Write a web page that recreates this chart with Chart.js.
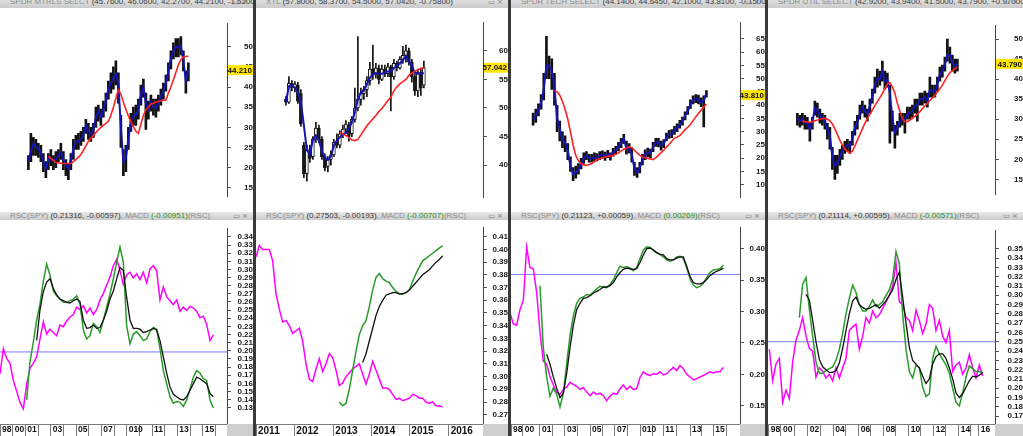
<!DOCTYPE html>
<html>
<head>
<meta charset="utf-8">
<script src="https://cdn.jsdelivr.net/npm/chart.js@4.4.1/dist/chart.umd.min.js"></script>
<style>
  body { margin: 0; width: 1023px; height: 436px; overflow: hidden; background: #3a3a3a; position: relative; font-family: "Liberation Sans", Arial, sans-serif; }
  .col { position: absolute; top: 0; height: 436px; background: #fff; overflow: hidden; }
  .hdr { position: absolute; left: 0; right: 0; background: linear-gradient(#e8e8e8, #cbcbcb); font-size: 8px; color: #8a8a8a; white-space: nowrap; overflow: hidden; padding-left: 10px; box-sizing: border-box; }
  .hdr .v { color: #3a3a3a; }
  .hdr .g { color: #1f8f1f; }
  .hdr .ic { position: absolute; right: 5px; top: 0; color: #777; font-family: "DejaVu Sans", sans-serif; font-size: 7px; }
  .top-hdr { top: -4px; height: 12px; line-height: 12px; }
  .bot-hdr { top: 212px; height: 8px; line-height: 8px; }
  canvas { position: absolute; left: 0; }
  .corner { position: absolute; bottom: 0; right: 0; height: 12px; background: #cfcfcf; }
</style>
</head>
<body>
<div class="col" style="left:0;width:253px">
  <div class="hdr top-hdr" id="hdr0"></div>
  <canvas id="top0" width="253" height="204" style="top:8px"></canvas>
  <div class="hdr bot-hdr" id="bhdr0"></div>
  <canvas id="bot0" width="253" height="216" style="top:220px"></canvas>
  <div class="corner" style="width:26px"></div>
</div>
<div class="col" style="left:256px;width:252px">
  <div class="hdr top-hdr" id="hdr1"></div>
  <canvas id="top1" width="252" height="204" style="top:8px"></canvas>
  <div class="hdr bot-hdr" id="bhdr1"></div>
  <canvas id="bot1" width="252" height="216" style="top:220px"></canvas>
  <div class="corner" style="width:25px"></div>
</div>
<div class="col" style="left:511px;width:254px">
  <div class="hdr top-hdr" id="hdr2"></div>
  <canvas id="top2" width="254" height="204" style="top:8px"></canvas>
  <div class="hdr bot-hdr" id="bhdr2"></div>
  <canvas id="bot2" width="254" height="216" style="top:220px"></canvas>
  <div class="corner" style="width:25px"></div>
</div>
<div class="col" style="left:768px;width:255px">
  <div class="hdr top-hdr" id="hdr3"></div>
  <canvas id="top3" width="255" height="204" style="top:8px"></canvas>
  <div class="hdr bot-hdr" id="bhdr3"></div>
  <canvas id="bot3" width="255" height="216" style="top:220px"></canvas>
  <div class="corner" style="width:28px"></div>
</div>
<script>
// ---------- SPDR MTRLS SELCT ----------
const mtrlsName = "SPDR MTRLS SELCT";
const mtrlsQuote = [45.76, 46.06, 42.27, 44.21, -1.52];
const mtrlsStart = 0;
const mtrlsHigh = [23,28.5,27.5,27,26,25.5,23.5,21.5,23.5,24.5, 23,24,24.5,26,24,22,21,23.5,27,28,
  28.5,29,30,32,31,30,31,35,35.5,34.5, 36.5,38.5,41.5,43.5,45,46.5,43.5,33,24.5,25.5,
  30,33.5,35,35.5,37,40.5,42,38.5,36.5,38, 37,37,38,39.5,41,43,46,49,51,52, 52,52.5,49,44,46];
const mtrlsLow = [19.5,21.5,23,23,22.5,21.5,19,17.5,19.5,20.5, 19.5,20,21.5,22,19.5,18,17,19.5,22,24.5,
  24.5,25.5,26.5,28.5,27,26.5,27.5,30,31.5,30.5, 32.5,34,37,38.5,39.5,40.5,36,25,18,19,
  24.5,29,30.5,30.5,32,35.5,37.5,29.5,32,34, 33,32.5,34,35.5,37,39,41.5,44.5,47,47.5, 47.5,48,44,38.5,41.5];
const mtrlsClose = [21.5,24,26,25.3,24.5,23.8,21.5,19.8,22,22.5, 21.7,22,23,23.8,22,20.5,19.8,22,24.5,26.5,
  26.5,27,28,30.5,29,28.2,29.4,32.5,34,32.5, 34.5,36.5,39.5,41,42.2,43.3,40.8,30,21.5,22.5,
  27,31.5,33,33,34.5,38,40,36,34.5,36.3, 35,34.8,36.2,37.5,39,41,44,47,49,50, 49.8,50.2,46.5,41.5,44.2];
const mtrlsAvgStart = 8;
const mtrlsAvg = [22.8,22.3,21.8,21.3,21.2,21.1,21,21,21,21, 21.5,22,22.6,23.2,24.3,25.4,26.5,27.3,28,28.7,
  29.4,30,30.5,31,31.5,33,35,37.2,39.3,38.2, 36.2,34.5,32.8,31.4,30.2,29,28.5,30.8,33,34.3,
  35,35.8,36,36.3,36.4,36.6,36.7,36.8,38.5,40, 41.8,43.6,45.5,46.8,47.5,47.6,47.7];
const mtrlsRscQuote = [0.21316, -0.00597, -0.00951];
const mtrlsRscStart = 0;
const mtrlsRsc = [0.171,0.202,0.19,0.184,0.163,0.15,0.136,0.128,0.158,0.178, 0.184,0.192,0.214,0.235,0.22,0.226,0.222,0.218,0.231,0.229,
  0.236,0.241,0.244,0.253,0.25,0.255,0.246,0.252,0.244,0.25, 0.262,0.27,0.28,0.29,0.304,0.312,0.298,0.281,0.293,0.296,
  0.289,0.294,0.287,0.296,0.283,0.3,0.304,0.298,0.262,0.278, 0.266,0.261,0.256,0.262,0.248,0.253,0.249,0.254,0.252,0.248,
  0.24,0.242,0.232,0.212,0.219];
const mtrlsMacdStart = 8;
const mtrlsMacd = [0.139,0.186,0.21,0.237,0.257,0.285,0.306,0.292,0.273,0.267, 0.263,0.259,0.259,0.261,0.263,0.267,0.257,0.225,0.214,0.218,
  0.233,0.229,0.222,0.237,0.253,0.269,0.288,0.308,0.327,0.308, 0.23,0.208,0.22,0.223,0.218,0.212,0.214,0.223,0.228,0.226,
  0.202,0.175,0.159,0.143,0.135,0.137,0.136,0.131,0.139,0.152, 0.167,0.175,0.172,0.165,0.163,0.139,0.129];
const mtrlsSignalStart = 11;
const mtrlsSignal = [0.212,0.25,0.272,0.284,0.288,0.276,0.268,0.263,0.261,0.259, 0.258,0.261,0.263,0.26,0.237,0.227,0.228,0.231,0.227,0.228,
  0.237,0.248,0.263,0.273,0.288,0.302,0.298,0.265,0.237,0.227, 0.227,0.226,0.222,0.223,0.225,0.227,0.225,0.212,0.192,0.172,
  0.155,0.146,0.143,0.14,0.139,0.143,0.151,0.159,0.167,0.165, 0.162,0.159,0.147,0.143];
const mtrlsLevel = 0.198;
const mtrlsYearTicks = [0,3.8,7.6,11.4,15.2,19,22.8,26.6,30.4,34.2,38,41.8,45.6,49.4,53.2,57,60.8,64.6];
const mtrlsYearLabels = ['98','00','01','','03','','05','','07','','010','','11','','13','','15',''];

// ---------- XTL ----------
const xtlName = "XTL";
const xtlQuote = [57.8, 58.37, 54.5, 57.042, -0.758];
const xtlOpen = [51.5,51,54.3,53.6,54,52.5,43.5,38.5,42.5,41.5, 44.6,46.5,44.5,41.5,39.8,41,41.8,44,43.5,45.5,
  46.3,47,45.5,48,50,51.5,52.5,53.2,54.8,56.8, 55.8,57,55,56.8,56,57.2,55.5,57.8,57,58.5, 59.2,60,58,55.5,53,56.2,54];
const xtlHigh = [52,55.5,54.8,54.6,54.5,53.2,44,43.5,43.5,45, 47.5,47,45,42,41.5,42.5,44.5,45.5,46,47,
  47.8,47.5,48.5,53.5,62.5,53.5,53.8,55.5,58,61, 57.8,57.5,57.5,57.5,57.8,57.5,58.5,58.2,59,60.8, 61,60.5,58.5,56,56.8,57,58.2];
const xtlLow = [50.5,50.8,53,52.8,50.8,46.8,37.8,37.2,40.5,41, 44,44,41,39,38.8,40,41.5,43,43,44.8,
  45.5,44.2,45,47.5,49.5,50.5,51.5,52,54,55, 55.2,54.2,54.8,55.5,55.5,49.5,55,56.5,56.8,57.8, 58,57.5,54.5,52.2,52,52.2,53.5];
const xtlClose = [51,54.3,53.6,54.2,51.2,47.2,38.5,42.8,41.2,44.6, 46.5,44.5,41.5,39.5,41,41.8,44,43.5,45.5,46.3,
  47.2,45,48,50,51.5,52.5,53.2,54.8,56.8,55.8, 57,55,56.8,56,57.2,55.5,57.8,57,58.5,59.2, 60,58,55.5,53,56.2,53.5,57.04];
const xtlBlue = [51,53.8,54,53.5,52.8,51,47,42.6,42,44.3, 45.2,44.3,42.5,41.2,40.9,41.5,43.5,44.3,44.9,45.4,
  45.6,46.4,47.5,49.3,51.5,52.7,53,54.2,55.3,55.9, 56.1,56,56,56.2,56.4,56.4,57,57.4,57.8,58.4, 59.1,58.2,57.4,56.2,56,56,56.1];
const xtlAvgStart = 18;
const xtlAvg = [45.7,45.5,45.2,44.8,44.4,44.3,44.5,45.3,46.1,46.9, 47.5,48.1,48.7,49.4,49.9,50.6,51.3,51.9,53,53.7,
  54.2,54.6,55,55.7,56.1,56.4,56.7,56.9,57.1];
const xtlRscQuote = [0.27503, -0.00193, -0.00707];
const xtlRscStart = 0;
const xtlRsc = [0.394,0.403,0.40,0.40,0.40,0.391,0.365,0.353,0.343,0.344, 0.34,0.334,0.336,0.338,0.328,0.31,0.298,0.296,0.306,0.314,
  0.304,0.31,0.318,0.315,0.305,0.293,0.295,0.30,0.303,0.306, 0.308,0.31,0.302,0.294,0.302,0.312,0.305,0.298,0.291,0.291,
  0.29,0.286,0.282,0.283,0.281,0.282,0.283,0.286,0.285,0.283, 0.283,0.28,0.279,0.28,0.277,0.277,0.276];
const xtlMacdStart = 25;
const xtlMacd = [0.28,0.277,0.279,0.29,0.305,0.32,0.333,0.34,0.344,0.355, 0.368,0.378,0.381,0.377,0.375,0.374,0.37,0.367,0.365,0.365,
  0.366,0.368,0.375,0.381,0.386,0.391,0.393,0.395,0.397,0.399, 0.401,0.403];
const xtlSignalStart = 32;
const xtlSignal = [0.311,0.318,0.328,0.338,0.348,0.355,0.36,0.364,0.365,0.366, 0.366,0.365,0.365,0.366,0.368,0.371,0.374,0.377,0.38,0.382,
  0.384,0.387,0.39,0.392,0.395];
const xtlYearTicks = [0,11.5,23.2,34.5,46,57.8];
const xtlYearLabels = ['2011','2012','2013','2014','2015','2016'];

// ---------- SPDR TECH SELECT ----------
const techName = "SPDR TECH SELECT";
const techQuote = [44.14, 44.645, 42.1, 43.81, -0.15];
const techStart = 0;
const techHigh = [37,38.5,40.5,44,52,66,58.5,57.5,52,40, 34,30,28.5,25.5,20.5,16.5,17,18,20,22,
  22.5,21.5,21.5,22,21.8,22.5,22.8,22.3,23,22, 23.7,24.5,26,27.5,29,26.5,25.5,24,18.5,16.5,
  18.5,21.5,23.2,23.8,23.5,26,27.5,27.5,26.5,27, 29.5,30.5,30.8,32,33,34.3,35.5,37.5,39.5,42, 43.5,44,43.8,42.8,43.5,45.5];
const techLow = [32.5,33.5,36,38.5,42,50,50,46,40,30, 26.5,24,22.5,19.5,15,11.5,12.5,14,16,18,
  19.5,18.5,18.5,19,19,19.5,20,19.2,20.2,19.3, 20.8,21.5,22.8,24,25.5,21.5,22,18.5,13.5,12.8,
  14.5,17.5,19.5,20.5,20,22.5,24.5,24.3,23,24, 26.5,27.5,27.8,29,30,31.3,32.5,34.5,36.5,38.8, 40.5,41,40.5,39.5,31.8,43];
const techClose = [34.5,36,38,41,46,55,55,53,47,35, 31,27,26,23,17,14,14.5,15.8,17.5,20,
  21,20,20,20.3,20.3,21,21.4,21,21.6,20.7, 22.3,23,24.3,25.8,27.6,23.5,24,21.5,16,14.6,
  16.5,19.5,21.5,22.2,22,24.2,26,26,25,25.5, 28,29,29.3,30.5,31.3,32.7,34,36,37.8,40.3, 42,42.5,42.2,41,41.8,44.5];
const techAvgStart = 8;
const techAvg = [45.5,45,43.8,41.5,38.5,34.8,30,25,21,19, 18,17.5,17.3,17.6,18,18.7,19.5,19.8,20.2,20.5,
  20.7,20.9,21.1,21.5,22,22.8,23.4,23.8,24.3,24, 23,22,21.2,20.5,20.2,19.9,19.7,19.5,20.2,21.1,
  22.1,23,24.2,25.3,26.4,27.6,28,28.5,29.6,30.8, 31.7,32.7,34.2,35.6,36.9,38.2,39.3,40.5];
const techRscQuote = [0.21123, 0.00059, 0.00269];
const techRscStart = 0;
const techRsc = [0.298,0.28,0.278,0.303,0.318,0.402,0.37,0.368,0.33,0.267, 0.221,0.216,0.196,0.183,0.172,0.168,0.176,0.18,0.187,0.184,
  0.181,0.176,0.179,0.172,0.166,0.172,0.168,0.17,0.166,0.158, 0.165,0.17,0.168,0.177,0.183,0.176,0.181,0.176,0.177,0.195,
  0.204,0.2,0.198,0.201,0.2,0.204,0.199,0.201,0.206,0.211, 0.206,0.214,0.209,0.2,0.196,0.191,0.193,0.196,0.198,0.201,
  0.204,0.202,0.204,0.204,0.211];
const techMacdStart = 9;
const techMacd = [0.341,0.242,0.196,0.165,0.178,0.168,0.148,0.17,0.216,0.262, 0.293,0.313,0.321,0.323,0.327,0.326,0.331,0.336,0.34,0.339,
  0.338,0.343,0.35,0.362,0.372,0.37,0.371,0.369,0.365,0.37, 0.384,0.398,0.403,0.402,0.397,0.393,0.391,0.387,0.382,0.38,
  0.382,0.387,0.388,0.384,0.37,0.352,0.342,0.338,0.34,0.345, 0.354,0.362,0.366,0.367,0.368,0.374];
const techSignalStart = 11;
const techSignal = [0.232,0.216,0.196,0.178,0.163,0.17,0.201,0.242,0.278,0.303, 0.313,0.321,0.322,0.325,0.329,0.332,0.335,0.339,0.339,0.341,
  0.346,0.355,0.362,0.367,0.369,0.368,0.367,0.368,0.378,0.39, 0.4,0.401,0.398,0.394,0.391,0.39,0.384,0.382,0.382,0.385,
  0.387,0.387,0.372,0.356,0.346,0.344,0.344,0.346,0.351,0.357, 0.361,0.364,0.366,0.369];
const techLevel = 0.359;
const techYearTicks = [0.3,3.8,9,12.7,16.5,20.2,24,27.7,31.5,35.2,39,42.7,46,50,54,57.5,61,64.8];
const techYearLabels = ['98','00','01','','03','','05','','07','','010','','11','','13','','15',''];

// ---------- SPDR UTIL SELECT ----------
const utilName = "SPDR UTIL SELECT";
const utilQuote = [42.92, 43.94, 41.5, 43.79, 0.97];
const utilStart = 1;
const utilHigh = [31.5,31,31.5,31,30.5,29,30.5,34.5,34,32.5, 31.5,31,29,28,23,21,21,22.5,23.5,24.5,
  25,24.5,27,29.5,31,33.5,34.5,33.5,32.5,35, 37.5,40.5,42.5,42,44.5,42,41.5,38.5,32,28.5,
  29.5,31.5,31.5,31.5,33,33,33.5,35,35,36.5, 36.5,37,36.5,40.5,38.5,38.5,40.5,43,43.5,45.5, 50,48,46,45,45];
const utilLow = [28.5,28,28.5,27.5,27.5,24.5,27.5,31,30.5,29, 28.5,27.5,25,22.5,17.5,15,16.5,18.5,20,21.5,
  22,21.5,23.5,26,27.5,30,31.5,30.5,29.5,31.5, 34,36.5,38,38.5,39.5,37.5,38,24,27,22.8,
  26,28,28.5,26.5,30,30,30.5,31.5,29.5,33.5, 33.5,34,33,35.5,35.5,35.5,37,39.5,40.5,42, 44.5,44,42,41.5,42];
const utilClose = [30.2,29.5,30,29.2,29,27.6,29.2,32.8,32.3,31, 30.2,29.5,27.5,26,20.5,18.5,19,20.6,22,23,
  23.5,23.2,25.3,27.8,29.2,31.5,33,32,31.3,33.3, 35.8,38.3,40.1,40,41.8,39.5,39.8,36.5,30.2,26.8,
  27.8,29.6,30,30,31.3,31.5,32,33.3,33.5,35, 35,35.5,34.6,37.3,37,37,38.9,41.2,42,43.6, 46.1,46,44,43.2,43.8];
const utilAvgStart = 3;
const utilAvg = [29.6,29.4,29.3,29.2,29.4,29.6,29.8,30,30.1,30.2, 30,29.6,28.8,27.6,26.2,24.7,23.6,22.6,22,21.6,
  22,23.3,24.8,26.2,27.6,29,30.2,31.2,32.3,33.4, 34.4,35.4,36.4,37.7,38.9,39.1,38,36.5,34,32,
  30.2,29.4,29.4,29.8,30.2,30.7,31.3,31.9,32.6,33.3, 34,34.6,35.3,36,36.8,37.6,38.5,39.6,40.7,41.6, 42.1,42.6,43];
const utilRscQuote = [0.21114, 0.00595, -0.00571];
const utilRscStart = 1;
const utilRsc = [0.242,0.208,0.226,0.232,0.185,0.198,0.189,0.228,0.252,0.262, 0.276,0.256,0.243,0.24,0.212,0.222,0.218,0.211,0.215,0.208,
  0.222,0.211,0.222,0.232,0.262,0.266,0.269,0.242,0.256,0.276, 0.27,0.283,0.276,0.279,0.286,0.293,0.3,0.31,0.335,0.293,
  0.29,0.276,0.273,0.262,0.284,0.273,0.259,0.269,0.29,0.286, 0.262,0.273,0.256,0.249,0.262,0.218,0.225,0.228,0.215,0.222,
  0.236,0.222,0.211,0.225,0.213];
const utilMacdStart = 10;
const utilMacd = [0.276,0.312,0.319,0.285,0.256,0.228,0.216,0.216,0.219,0.221, 0.223,0.23,0.242,0.259,0.28,0.297,0.311,0.303,0.29,0.283,
  0.283,0.288,0.295,0.288,0.29,0.293,0.3,0.306,0.317,0.347, 0.334,0.279,0.242,0.218,0.211,0.225,0.222,0.201,0.191,0.194,
  0.232,0.245,0.237,0.231,0.225,0.216,0.2,0.185,0.181,0.195, 0.212,0.224,0.221,0.218,0.218,0.217];
const utilSignalStart = 12;
const utilSignal = [0.301,0.295,0.273,0.25,0.231,0.223,0.22,0.217,0.217,0.219, 0.227,0.243,0.262,0.28,0.294,0.298,0.29,0.287,0.285,0.286,
  0.288,0.29,0.286,0.29,0.294,0.3,0.306,0.317,0.325,0.298, 0.27,0.244,0.23,0.226,0.222,0.213,0.205,0.21,0.226,0.234,
  0.237,0.237,0.232,0.222,0.21,0.195,0.19,0.194,0.201,0.208, 0.213,0.212,0.214,0.217];
const utilLevel = 0.25;
const utilYearTicks = [0.8,4.5,8.5,12.5,16.3,20.2,24,27.8,31.5,35.3,39,42.8,46.5,50.3,54,57.8,61.5,63.8];
const utilYearLabels = ['98','00','','02','','04','','06','','08','','10','','12','','14','','16'];

// ---------- helpers ----------
Chart.defaults.font.family = '"Liberation Sans", Arial, sans-serif';
Chart.defaults.animation = false;

const fmtSigned = (v) => (v >= 0 ? '+' : '') + v.toFixed(5);

function setHeaders(i, name, q, r) {
  document.getElementById('hdr' + i).innerHTML =
    name + ' <span class="v">(' + q.slice(0, 4).map((v) => v.toFixed(4)).join(', ') + ', ' + fmtSigned(q[4]) + ')</span>' +
    '<span class="ic">▭ ×</span>';
  document.getElementById('bhdr' + i).innerHTML =
    'RSC(SPY) <span class="v">(' + r[0].toFixed(5) + ', ' + fmtSigned(r[1]) + ')</span>, MACD ' +
    '<span class="g">(' + r[2].toFixed(5) + ')</span>(RSC)<span class="ic">▭ ×</span>';
}

function pts(values, start) {
  return values.map((v, i) => ({ x: start + i, y: v }));
}

const lastPriceTag = {
  id: 'lastPriceTag',
  afterDraw(chart, args, opts) {
    const a = chart.chartArea;
    const y = chart.scales.y.getPixelForValue(opts.value);
    const ctx = chart.ctx;
    ctx.save();
    ctx.fillStyle = '#ffe600';
    ctx.fillRect(a.right + 1, y - 5, chart.width - a.right - 1, 10);
    ctx.fillStyle = '#111';
    ctx.font = 'bold 8px "Liberation Sans", Arial';
    ctx.textAlign = 'right';
    ctx.textBaseline = 'middle';
    ctx.fillText(opts.value.toFixed(3), chart.width - 1, y + 0.5);
    ctx.restore();
  }
};

// right-hand price axis; labels only between lo and hi like the original
function yAxis(min, max, step, lo, hi, axisW, pad, fmt) {
  return {
    position: 'right', min: min, max: max,
    afterBuildTicks: (s) => { s.ticks = s.ticks.filter((t) => t.value >= lo - 1e-6 && t.value <= hi + 1e-6); },
    afterFit: (s) => { s.width = axisW; },
    ticks: {
      stepSize: step, includeBounds: false, autoSkip: false, color: '#1a1a1a', padding: pad,
      font: { size: 8, weight: 'bold' }, crossAlign: 'far',
      callback: fmt
    },
    grid: { drawOnChartArea: false, tickLength: 4, color: '#555' },
    border: { color: '#444' }
  };
}

function priceChart(id, p) {
  const datasets = [
    { type: 'line', data: pts(p.avg, p.avgStart), borderColor: '#ff2020', borderWidth: 1.6, pointRadius: 0, order: 1 },
    { type: 'line', data: pts(p.blue, p.start), borderColor: '#1515b5', borderWidth: 2, pointRadius: 0, order: 2 },
    { type: 'bar', data: p.low.map((l, i) => ({ x: p.start + i, y: [l, p.high[i]] })),
      backgroundColor: '#111', barThickness: p.open ? 1 : 2, grouped: false, order: 4 }
  ];
  if (p.open) {
    datasets.push({
      type: 'bar', data: p.open.map((o, i) => ({ x: p.start + i, y: [o, p.close[i]] })),
      backgroundColor: p.open.map((o, i) => (p.close[i] >= o ? '#ffffff' : '#1a1a1a')),
      borderColor: '#111', borderWidth: 1, borderSkipped: false,
      barThickness: 3, grouped: false, order: 3
    });
  }
  new Chart(document.getElementById(id), {
    type: 'line',
    data: { datasets: datasets },
    plugins: [lastPriceTag],
    options: {
      responsive: false, devicePixelRatio: 1,
      layout: { padding: 0, autoPadding: false },
      plugins: { legend: { display: false }, tooltip: { enabled: false }, lastPriceTag: { value: p.last } },
      scales: {
        x: { type: 'linear', display: false, min: p.xMin, max: p.xMax },
        y: yAxis(p.yMin, p.yMax, 5, p.lo, p.hi, p.axisW, p.pad, (v) => v)
      }
    }
  });
}

function rscChart(id, p) {
  const datasets = [
    { data: pts(p.signal, p.signalStart), borderColor: '#111', borderWidth: 1.3, pointRadius: 0 },
    { data: pts(p.macd, p.macdStart), borderColor: '#2a9a2a', borderWidth: 1.5, pointRadius: 0 },
    { data: pts(p.rsc, p.rscStart), borderColor: '#ff00ff', borderWidth: 1.5, pointRadius: 0 }
  ];
  if (p.level !== null) {
    datasets.push({ data: [{ x: p.xMin, y: p.level }, { x: p.xMax, y: p.level }],
      borderColor: '#7878ff', borderWidth: 1, pointRadius: 0 });
  }
  new Chart(document.getElementById(id), {
    type: 'line',
    data: { datasets: datasets },
    options: {
      responsive: false, devicePixelRatio: 1,
      layout: { padding: 0, autoPadding: false },
      plugins: { legend: { display: false }, tooltip: { enabled: false } },
      scales: {
        x: {
          type: 'linear', position: 'bottom', min: p.xMin, max: p.xMax,
          afterBuildTicks: (s) => { s.ticks = p.yearTicks.map((v) => ({ value: v })); },
          afterFit: (s) => { s.height = 12; },
          ticks: {
            autoSkip: false, maxRotation: 0, align: 'start', padding: -11, labelOffset: 2,
            color: '#111', font: { size: p.yearFont, weight: 'bold' },
            callback: (v, i) => p.yearLabels[i]
          },
          grid: { drawOnChartArea: false, tickLength: 12, color: '#7a7a7a' },
          border: { color: '#7a7a7a' }
        },
        y: yAxis(p.yMin, p.yMax, p.step, p.lo, p.hi, p.axisW, p.pad, (v) => v.toFixed(2))
      }
    }
  });
}

// ---------- build ----------
setHeaders(0, mtrlsName, mtrlsQuote, mtrlsRscQuote);
setHeaders(1, xtlName, xtlQuote, xtlRscQuote);
setHeaders(2, techName, techQuote, techRscQuote);
setHeaders(3, utilName, utilQuote, utilRscQuote);

priceChart('top0', { start: mtrlsStart, high: mtrlsHigh, low: mtrlsLow, blue: mtrlsClose, avg: mtrlsAvg, avgStart: mtrlsAvgStart,
  last: mtrlsQuote[3], xMin: 0, xMax: 68.1, yMin: 12.9, yMax: 55.7, lo: 15, hi: 50, axisW: 26, pad: 11 });
priceChart('top1', { start: 0, open: xtlOpen, high: xtlHigh, low: xtlLow, close: xtlClose, blue: xtlBlue, avg: xtlAvg, avgStart: xtlAvgStart,
  last: xtlQuote[3], xMin: -0.5, xMax: 56.25, yMin: 34.4, yMax: 64.9, lo: 40, hi: 60, axisW: 25, pad: 10 });
priceChart('top2', { start: techStart, high: techHigh, low: techLow, blue: techClose, avg: techAvg, avgStart: techAvgStart,
  last: techQuote[3], xMin: 0.3, xMax: 69.0, yMin: 5.3, yMax: 71.1, lo: 10, hi: 65, axisW: 25, pad: 10 });
priceChart('top3', { start: utilStart, high: utilHigh, low: utilLow, blue: utilClose, avg: utilAvg, avgStart: utilAvgStart,
  last: utilQuote[3], xMin: 0.6, xMax: 68.7, yMin: 11.3, yMax: 53.3, lo: 15, hi: 50, axisW: 28, pad: 13 });

rscChart('bot0', { rsc: mtrlsRsc, rscStart: mtrlsRscStart, macd: mtrlsMacd, macdStart: mtrlsMacdStart, signal: mtrlsSignal, signalStart: mtrlsSignalStart,
  level: mtrlsLevel, xMin: 0, xMax: 68.1, yMin: 0.1094, yMax: 0.3494, step: 0.01, lo: 0.12, hi: 0.34, axisW: 26, pad: 4,
  yearTicks: mtrlsYearTicks, yearLabels: mtrlsYearLabels, yearFont: 8.5 });
rscChart('bot1', { rsc: xtlRsc, rscStart: xtlRscStart, macd: xtlMacd, macdStart: xtlMacdStart, signal: xtlSignal, signalStart: xtlSignalStart,
  level: null, xMin: 0, xMax: 68.1, yMin: 0.2627, yMax: 0.417, step: 0.01, lo: 0.27, hi: 0.41, axisW: 25, pad: 3,
  yearTicks: xtlYearTicks, yearLabels: xtlYearLabels, yearFont: 10 });
rscChart('bot2', { rsc: techRsc, rscStart: techRscStart, macd: techMacd, macdStart: techMacdStart, signal: techSignal, signalStart: techSignalStart,
  level: techLevel, xMin: 0.3, xMax: 69.0, yMin: 0.1209, yMax: 0.4332, step: 0.05, lo: 0.15, hi: 0.40, axisW: 25, pad: 3,
  yearTicks: techYearTicks, yearLabels: techYearLabels, yearFont: 8.5 });
rscChart('bot3', { rsc: utilRsc, rscStart: utilRscStart, macd: utilMacd, macdStart: utilMacdStart, signal: utilSignal, signalStart: utilSignalStart,
  level: utilLevel, xMin: 0.6, xMax: 68.7, yMin: 0.1615, yMax: 0.3694, step: 0.01, lo: 0.17, hi: 0.35, axisW: 28, pad: 6,
  yearTicks: utilYearTicks, yearLabels: utilYearLabels, yearFont: 8.5 });
</script>
</body>
</html>
